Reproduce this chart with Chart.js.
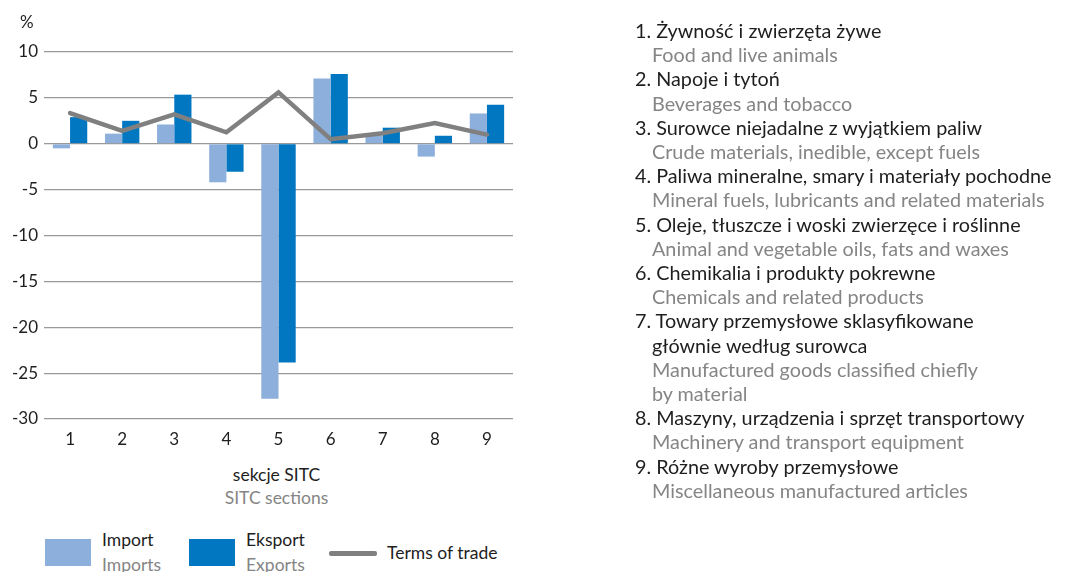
<!DOCTYPE html>
<html>
<head>
<meta charset="utf-8">
<script src="https://cdn.jsdelivr.net/npm/chart.js@4.4.0/dist/chart.umd.min.js"></script>
<style>
  html, body { margin: 0; padding: 0; background: #fff; }
  body { width: 1065px; height: 572px; position: relative; overflow: hidden; font-family: Lato, "Noto Sans", sans-serif; }
  #wrap { position: absolute; left: 0; top: 0; width: 1065px; height: 460px; }
  .t { position: absolute; white-space: nowrap; font-size: 17.5px; line-height: 20px; }
  .r { font-size: 19.8px; line-height: 22px; }
  .pl { color: #1e1e1e; }
  .en { color: #858585; }
  .box { position: absolute; }
</style>
</head>
<body>
<div id="wrap"><canvas id="c"></canvas></div>

<div class="t pl" style="left:20px; top:12px; font-size:17px;">%</div>
<div class="t pl" style="left:0; width:553px; text-align:center; top:465px;">sekcje SITC</div>
<div class="t en" style="left:0; width:553px; text-align:center; top:488px;">SITC sections</div>

<div class="box" style="left:45px; top:539px; width:46px; height:27px; background:#8DAFDC;"></div>
<div class="t pl" style="left:102px; top:530px;">Import</div>
<div class="t en" style="left:102px; top:555px;">Imports</div>
<div class="box" style="left:189px; top:539px; width:46px; height:27px; background:#0077C0;"></div>
<div class="t pl" style="left:246px; top:530px;">Eksport</div>
<div class="t en" style="left:246px; top:555px;">Exports</div>
<div class="box" style="left:329px; top:551px; width:48px; height:5px; border-radius:2px; background:#808080;"></div>
<div class="t pl" style="left:387px; top:543px;">Terms of trade</div>

<div id="sections"></div>

<script>
const categories = ["1", "2", "3", "4", "5", "6", "7", "8", "9"];
const importValues = [-0.5, 1.1, 2.1, -4.2, -27.8, 7.1, 0.9, -1.4, 3.3];
const exportValues = [2.9, 2.5, 5.35, -3.05, -23.85, 7.6, 1.75, 0.87, 4.25];
const termsOfTrade = [3.35, 1.4, 3.2, 1.25, 5.6, 0.5, 1.15, 2.25, 1.0];
const yTicks = [10, 5, 0, -5, -10, -15, -20, -25, -30];

const sectionLines = [
  ["pl", "1. Żywność i zwierzęta żywe"],
  ["en", "Food and live animals"],
  ["pl", "2. Napoje i tytoń"],
  ["en", "Beverages and tobacco"],
  ["pl", "3. Surowce niejadalne z wyjątkiem paliw"],
  ["en", "Crude materials, inedible, except fuels"],
  ["pl", "4. Paliwa mineralne, smary i materiały pochodne"],
  ["en", "Mineral fuels, lubricants and related materials"],
  ["pl", "5. Oleje, tłuszcze i woski zwierzęce i roślinne"],
  ["en", "Animal and vegetable oils, fats and waxes"],
  ["pl", "6. Chemikalia i produkty pokrewne"],
  ["en", "Chemicals and related products"],
  ["pl", "7. Towary przemysłowe sklasyfikowane"],
  ["pl2", "głównie według surowca"],
  ["en", "Manufactured goods classified chiefly"],
  ["en", "by material"],
  ["pl", "8. Maszyny, urządzenia i sprzęt transportowy"],
  ["en", "Machinery and transport equipment"],
  ["pl", "9. Różne wyroby przemysłowe"],
  ["en", "Miscellaneous manufactured articles"]
];

const sec = document.getElementById('sections');
sectionLines.forEach((l, i) => {
  const d = document.createElement('div');
  d.className = 't r ' + (l[0] === 'en' ? 'en' : 'pl');
  d.style.left = (l[0] === 'pl' ? 635 : 652) + 'px';
  d.style.top = (19 + i * 24.2) + 'px';
  d.textContent = l[1];
  sec.appendChild(d);
});

new Chart(document.getElementById('c'), {
  data: {
    labels: categories,
    datasets: [
      { type: 'bar', label: 'Import', data: importValues, backgroundColor: '#8DAFDC', order: 1,
        categoryPercentage: 0.66, barPercentage: 1.0 },
      { type: 'bar', label: 'Eksport', data: exportValues, backgroundColor: '#0077C0', order: 1,
        categoryPercentage: 0.66, barPercentage: 1.0 },
      { type: 'line', label: 'Terms of trade', data: termsOfTrade, borderColor: '#808080', borderWidth: 4.5,
        pointRadius: 0, tension: 0, fill: false, order: 0, borderCapStyle: 'round', borderJoinStyle: 'miter' }
    ]
  },
  options: {
    responsive: true,
    maintainAspectRatio: false,
    animation: false,
    layout: { padding: { top: 52, right: 552, left: 0, bottom: 0 } },
    plugins: { legend: { display: false }, tooltip: { enabled: false } },
    scales: {
      x: {
        grid: { display: false, drawTicks: false },
        border: { display: false },
        ticks: { color: '#1e1e1e', font: { family: 'Lato', size: 17 }, padding: 10 },
        afterFit: s => { s.height = 41; }
      },
      y: {
        min: -30, max: 10,
        afterBuildTicks: s => { s.ticks = yTicks.map(v => ({ value: v })); },
        grid: { color: '#999999', lineWidth: 1.2, drawTicks: false },
        border: { display: false },
        ticks: { color: '#1e1e1e', font: { family: 'Lato', size: 17 }, padding: 6 },
        afterFit: s => { s.width = 44; }
      }
    }
  }
});
</script>
</body>
</html>
